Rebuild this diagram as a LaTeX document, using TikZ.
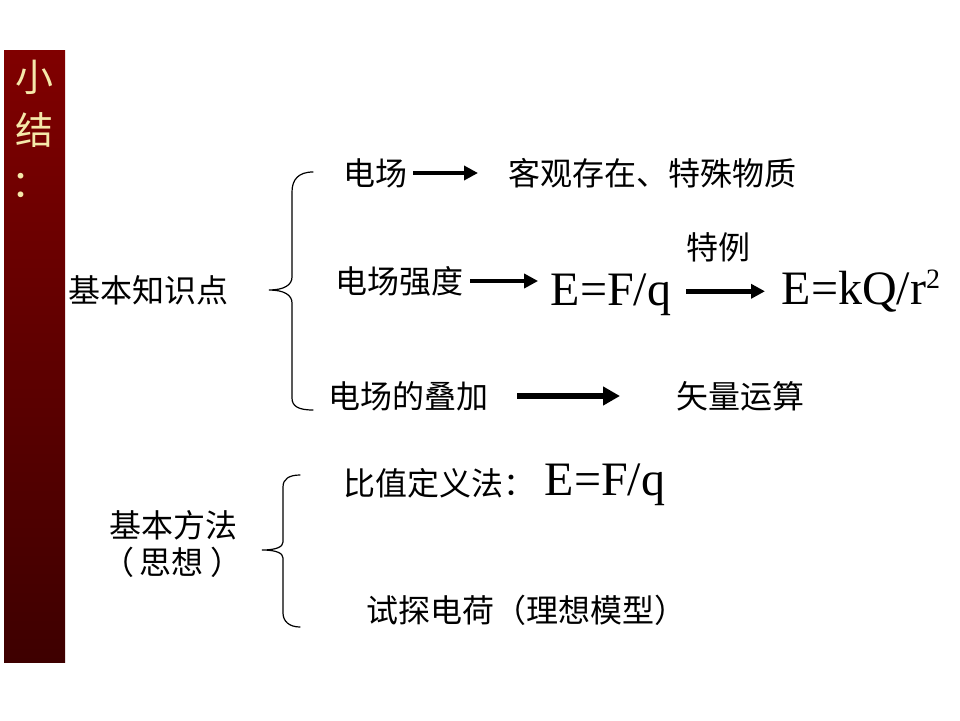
\documentclass[tikz,border=0pt]{standalone}
\usepackage{fontspec}
\setmainfont{Liberation Serif}
\newfontfamily\cjk{Noto Sans CJK SC}
\usetikzlibrary{arrows.meta,positioning}
\definecolor{barTop}{RGB}{128,0,0}
\definecolor{barBot}{RGB}{62,0,0}
\definecolor{titleYellow}{RGB}{245,232,170}

\begin{document}
\begin{tikzpicture}[
  x=1pt,y=-1pt,
  txt/.style={inner sep=0pt,anchor=west,font=\cjk\fontsize{32}{38}\selectfont},
  formula/.style={inner sep=0pt,anchor=base west,font=\fontsize{48}{56}\selectfont},
  title/.style={inner sep=0pt,font=\cjk\fontsize{38}{44}\selectfont,text=titleYellow},
  arr/.style={-{Triangle[length=14pt,width=14pt]},line width=4.5pt},
  bigarr/.style={-{Triangle[length=17pt,width=18pt]},line width=6.5pt},
  brace/.style={line width=1.2pt,line cap=round}
]
\fill[white] (0,0) rectangle (960,720);
\useasboundingbox (0,0) rectangle (960,720);

% side bar
\shade[top color=barTop,bottom color=barBot] (4,50) rectangle (65,662);
\node[title] (s1) at (35,77) {小};
\node[title] (s2) at (35,130) {结};
\node[title] (s3) at (31,185) {：};

% knowledge points
\node[txt] (jb) at (68.5,290) {基本知识点};
\node[txt] (dc) at (343.5,173) {电场};
\node[txt] (kg) at (508.5,173) {客观存在、特殊物质};
\node[txt] (qd) at (335.5,281) {电场强度};
\node[formula] (ef) at (550.5,305) {E=F/q};
\node[txt,anchor=center] (tl) at (718,247) {特例};
\node[formula] (ek) at (781.5,304) {E=kQ/r\raisebox{16pt}{\fontsize{28}{30}\selectfont 2}};
\node[txt] (dj) at (328.5,396) {电场的叠加};
\node[txt] (sl) at (676.5,396) {矢量运算};

\draw[arr,shorten <=5.5pt,shorten >=30.5pt] (dc.east) -- (dc.east -| kg.west);
\draw[arr,shorten <=6.5pt,shorten >=12.4pt] (qd.east) -- (qd.east -| ef.west);
\draw[arr,shorten <=15pt,shorten >=16.5pt] ([yshift=3pt]ef.east) -- ([yshift=3pt]ef.east -| ek.west);
\draw[bigarr,shorten <=28.5pt,shorten >=56.5pt] (dj.east) -- (dj.east -| sl.west);

\draw[brace] (313,172) .. controls (298,172) and (292,180) .. (292,192) -- (292,277)
  .. controls (292,285) and (284,290) .. (269,290)
  .. controls (284,290) and (292,295) .. (292,303) -- (292,398)
  .. controls (292,406) and (298,410) .. (313,410);

% methods
\node[txt,anchor=center] (ff) at (173,525) {基本方法};
\node[txt,anchor=center] (sx) at (172,562) {（\hspace{6pt}思想\hspace{6pt}）};
\node[txt] (bz) at (343.5,483) {比值定义法：};
\node[formula] (ef2) at (544.5,495) {E=F/q};
\node[txt] (st) at (366.5,610) {试探电荷（理想模型）};

\draw[brace] (300,475) .. controls (289,475) and (283,479) .. (283,487) -- (283,542)
  .. controls (283,547) and (276,550) .. (262,550)
  .. controls (276,550) and (283,553) .. (283,558) -- (283,613)
  .. controls (283,621) and (289,627) .. (300,627);
\end{tikzpicture}
\end{document}
